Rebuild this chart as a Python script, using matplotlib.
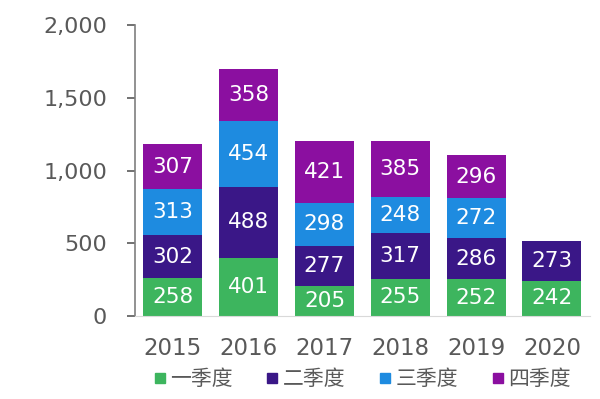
import matplotlib.pyplot as plt
import numpy as np

years = ['2015', '2016', '2017', '2018', '2019', '2020']
quarters = ['一季度', '二季度', '三季度', '四季度']
q1 = [258, 401, 205, 255, 252, 242]
q2 = [302, 488, 277, 317, 286, 273]
q3 = [313, 454, 298, 248, 272, 0]
q4 = [307, 358, 421, 385, 296, 0]
colors = ['#3db55e', '#3a1787', '#1e8be0', '#8b0fa0']

plt.rcParams['font.family'] = ['DejaVu Sans', 'Noto Sans CJK SC']

fig = plt.figure(figsize=(6, 3.99), dpi=100)
ax = fig.add_axes([0.225, 0.208, 0.758, 0.729])

x = np.arange(len(years))
bottom = np.zeros(len(years))
for vals, name, c in zip([q1, q2, q3, q4], quarters, colors):
    vals = np.array(vals)
    ax.bar(x, vals, 0.78, bottom=bottom, color=c, label=name)
    for xi, b, v in zip(x, bottom, vals):
        if v > 0:
            ax.text(xi, b + v / 2, str(v), ha='center', va='center',
                    color='white', fontsize=15.5)
    bottom += vals

ax.set_xlim(-0.5, 5.5)
ax.set_ylim(0, 2000)
ax.set_yticks([0, 500, 1000, 1500, 2000])
ax.set_yticklabels(['0', '500', '1,000', '1,500', '2,000'])
ax.set_xticks(x)
ax.set_xticklabels(years)
ax.tick_params(axis='y', colors='#595959', labelsize=16, length=6, width=1.2, pad=14)
ax.tick_params(axis='x', colors='#595959', labelsize=16.5, length=0, pad=15)
for s in ['top', 'right']:
    ax.spines[s].set_visible(False)
ax.spines['left'].set_color('#7f7f7f')
ax.spines['left'].set_linewidth(1.2)
ax.spines['bottom'].set_color('#d9d9d9')

handles = [plt.Line2D([], [], marker='s', linestyle='', color=c, markersize=7) for c in colors]
leg = fig.legend(handles, quarters, loc='center', bbox_to_anchor=(0.6, 0.05), ncol=4,
                 frameon=False, handletextpad=0.0, columnspacing=1.4, handlelength=1.0,
                 prop={'family': ['Noto Sans CJK SC'], 'size': 15})
for t in leg.get_texts():
    t.set_color('#595959')

fig.savefig('out.png', dpi=100)
